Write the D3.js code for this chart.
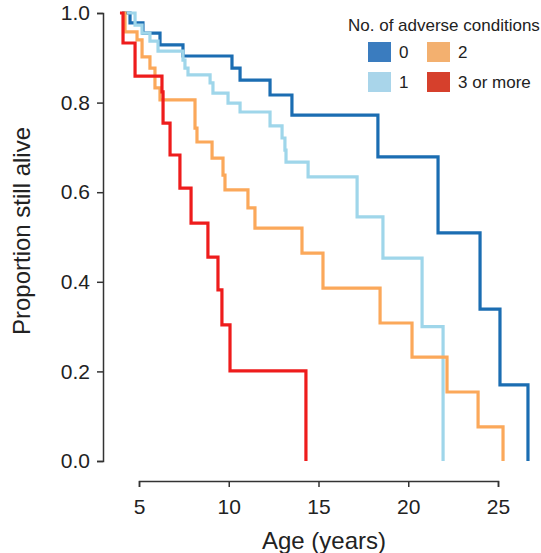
<!DOCTYPE html>
<html>
<head>
<meta charset="utf-8">
<script src="https://cdn.jsdelivr.net/npm/d3@7"></script>
<style>
  body { margin: 0; background: #fff; }
  svg text { font-family: "Liberation Sans", Arial, sans-serif; fill: #222; }
</style>
</head>
<body>
<div id="chart"></div>
<script>
// Kaplan-Meier style survival steps
var groups = ["0", "1", "2", "3 or more"];

var times0 = [4.05, 4.50, 5.22, 6.17, 7.45, 10.18, 10.63, 12.30, 13.52, 18.31, 21.66, 24.00, 25.11, 26.67];
var surv0  = [1.0, 0.978, 0.955, 0.929, 0.904, 0.877, 0.850, 0.817, 0.772, 0.679, 0.509, 0.339, 0.170, 0];

var times1 = [4.33, 4.78, 5.17, 5.61, 6.06, 7.45, 7.56, 7.73, 8.96, 9.12, 9.96, 10.63, 12.30, 12.97, 13.13, 13.19, 14.42, 17.15, 18.59, 20.77, 21.94];
var surv1  = [1.0, 0.973, 0.955, 0.937, 0.915, 0.895, 0.877, 0.862, 0.844, 0.821, 0.799, 0.779, 0.748, 0.721, 0.694, 0.667, 0.634, 0.545, 0.453, 0.300, 0];

var times2 = [4.11, 4.22, 4.89, 5.17, 5.61, 5.89, 6.17, 8.12, 8.23, 9.07, 9.68, 9.79, 11.07, 11.46, 14.08, 15.25, 18.43, 20.21, 22.16, 23.89, 25.28];
var surv2  = [1.0, 0.958, 0.940, 0.902, 0.877, 0.833, 0.806, 0.743, 0.712, 0.676, 0.638, 0.605, 0.565, 0.520, 0.464, 0.386, 0.308, 0.232, 0.154, 0.076, 0];

var times3 = [3.94, 4.11, 4.78, 6.28, 6.34, 6.73, 7.28, 7.90, 8.84, 9.40, 9.62, 10.07, 14.30];
var surv3  = [1.0, 0.933, 0.859, 0.824, 0.754, 0.683, 0.609, 0.531, 0.455, 0.382, 0.304, 0.201, 0];

var xTicks = [5, 10, 15, 20, 25];
var yTicks = [0, 0.2, 0.4, 0.6, 0.8, 1.0];

var lineColors   = ["#1b6db2", "#9fd6ea", "#fba85a", "#ee1c1c"];
var legendColors = ["#3a7cbf", "#a9d5ea", "#f3b06f", "#d6402c"];

var allTimes = [times0, times1, times2, times3];
var allSurv  = [surv0, surv1, surv2, surv3];

var series = groups.map(function(g, i) {
  return allTimes[i].map(function(t, j) { return {t: t, s: allSurv[i][j]}; });
});

var width = 541, height = 553;

var svg = d3.select("#chart")
  .append("svg")
    .attr("width", width)
    .attr("height", height);

var x = d3.scaleLinear()
  .domain([5, 25])
  .range([139, 498]);

var y = d3.scaleLinear()
  .domain([0, 1])
  .range([461, 13]);

// axes
var xAxis = svg.append("g")
  .attr("transform", "translate(0,481)")
  .call(d3.axisBottom(x).tickValues(xTicks).tickSize(6).tickPadding(12));

var yAxis = svg.append("g")
  .attr("transform", "translate(103,0)")
  .call(d3.axisLeft(y).tickValues(yTicks).tickFormat(d3.format(".1f")).tickSize(6).tickPadding(7));

[xAxis, yAxis].forEach(function(a) {
  a.selectAll("path, line").attr("stroke", "#333").attr("stroke-width", 1.5);
  a.selectAll("text").style("font-size", "21px").attr("fill", "#1a1a1a");
});

// survival curves
var line = d3.line()
  .x(function(d) { return x(d.t); })
  .y(function(d) { return y(d.s); })
  .curve(d3.curveStepAfter);

svg.append("g")
  .selectAll("path")
  .data(series)
  .enter()
  .append("path")
    .attr("d", line)
    .attr("fill", "none")
    .attr("stroke", function(d, i) { return lineColors[i]; })
    .attr("stroke-width", 3.2)
    .attr("stroke-linejoin", "miter");

// axis titles
svg.append("text")
  .attr("x", 324)
  .attr("y", 549)
  .attr("text-anchor", "middle")
  .style("font-size", "24px")
  .text("Age (years)");

svg.append("text")
  .attr("transform", "translate(30,231) rotate(-90)")
  .attr("text-anchor", "middle")
  .style("font-size", "24px")
  .text("Proportion still alive");

// legend
svg.append("text")
  .attr("x", 348)
  .attr("y", 31)
  .style("font-size", "17px")
  .text("No. of adverse conditions");

var legPos = [[368, 42], [368, 72], [427, 42], [427, 72]];

var leg = svg.append("g")
  .selectAll("g")
  .data(groups)
  .enter()
  .append("g")
    .attr("transform", function(d, i) { return "translate(" + legPos[i][0] + "," + legPos[i][1] + ")"; });

leg.append("rect")
  .attr("width", 23)
  .attr("height", 20)
  .attr("fill", function(d, i) { return legendColors[i]; });

leg.append("text")
  .attr("x", 31)
  .attr("y", 16)
  .style("font-size", "17px")
  .text(function(d) { return d; });
</script>
</body>
</html>
